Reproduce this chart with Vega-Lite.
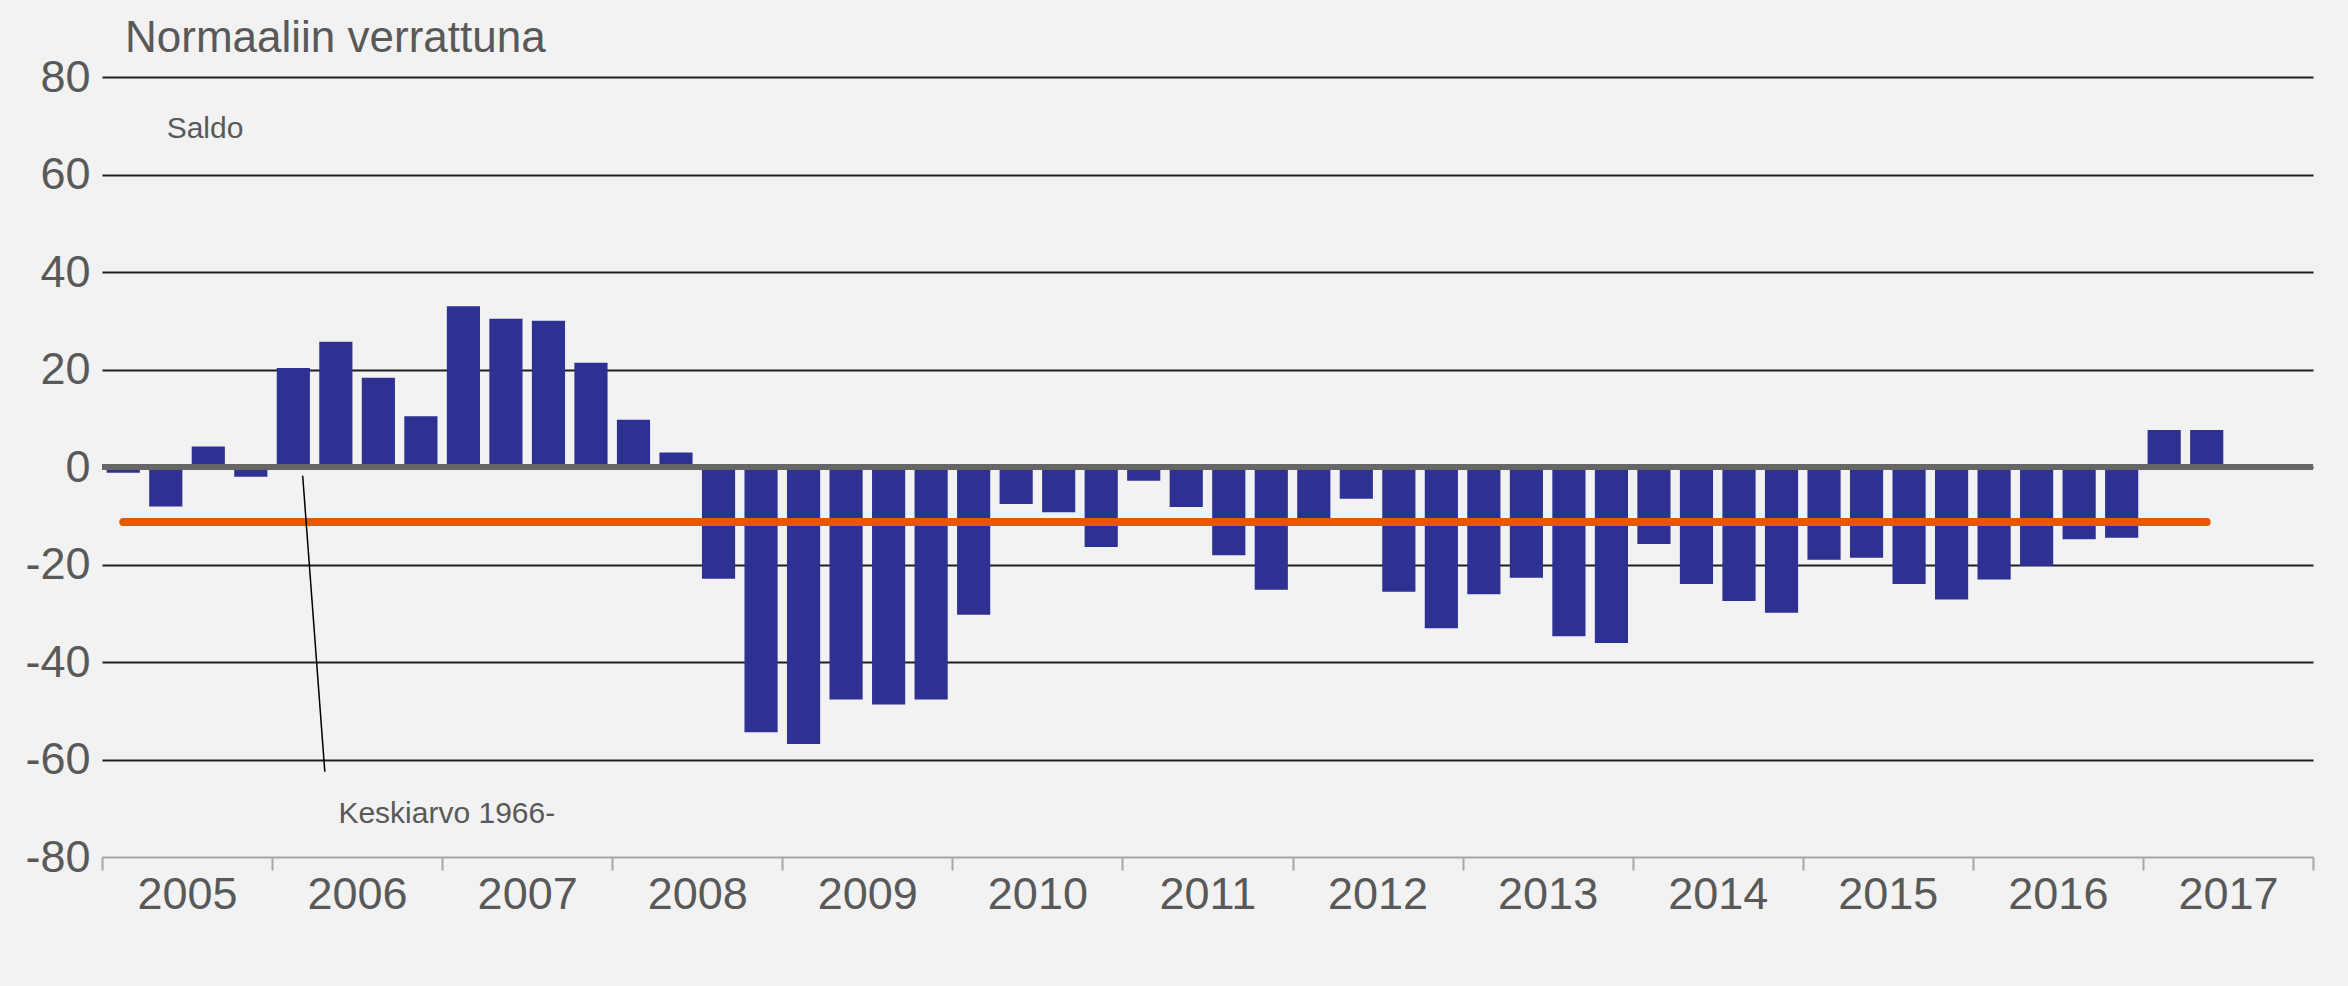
{
  "$schema": "https://vega.github.io/schema/vega-lite/v6.json",
  "width": 2211,
  "height": 780,
  "autosize": {"type": "none"},
  "padding": {"left": 102, "top": 77, "right": 35, "bottom": 129},
  "background": "#f2f2f2",
  "title": {
    "text": "Normaaliin verrattuna",
    "anchor": "start",
    "frame": "group",
    "dx": 23,
    "dy": 45,
    "offset": 4,
    "baseline": "alphabetic",
    "fontSize": 44,
    "font": "Liberation Sans",
    "fontWeight": "normal",
    "color": "#595959"
  },
  "datasets": {
    "saldo": [
      {"q": "2005Q1", "value": -1.2, "avg": -11.3},
      {"q": "2005Q2", "value": -8.1, "avg": -11.3},
      {"q": "2005Q3", "value": 4.2, "avg": -11.3},
      {"q": "2005Q4", "value": -2.0, "avg": -11.3},
      {"q": "2006Q1", "value": 20.3, "avg": -11.3},
      {"q": "2006Q2", "value": 25.7, "avg": -11.3},
      {"q": "2006Q3", "value": 18.3, "avg": -11.3},
      {"q": "2006Q4", "value": 10.4, "avg": -11.3},
      {"q": "2007Q1", "value": 33.0, "avg": -11.3},
      {"q": "2007Q2", "value": 30.4, "avg": -11.3},
      {"q": "2007Q3", "value": 30.0, "avg": -11.3},
      {"q": "2007Q4", "value": 21.4, "avg": -11.3},
      {"q": "2008Q1", "value": 9.7, "avg": -11.3},
      {"q": "2008Q2", "value": 3.0, "avg": -11.3},
      {"q": "2008Q3", "value": -22.9, "avg": -11.3},
      {"q": "2008Q4", "value": -54.4, "avg": -11.3},
      {"q": "2009Q1", "value": -56.8, "avg": -11.3},
      {"q": "2009Q2", "value": -47.7, "avg": -11.3},
      {"q": "2009Q3", "value": -48.7, "avg": -11.3},
      {"q": "2009Q4", "value": -47.7, "avg": -11.3},
      {"q": "2010Q1", "value": -30.3, "avg": -11.3},
      {"q": "2010Q2", "value": -7.6, "avg": -11.3},
      {"q": "2010Q3", "value": -9.3, "avg": -11.3},
      {"q": "2010Q4", "value": -16.4, "avg": -11.3},
      {"q": "2011Q1", "value": -2.8, "avg": -11.3},
      {"q": "2011Q2", "value": -8.2, "avg": -11.3},
      {"q": "2011Q3", "value": -18.1, "avg": -11.3},
      {"q": "2011Q4", "value": -25.2, "avg": -11.3},
      {"q": "2012Q1", "value": -11.0, "avg": -11.3},
      {"q": "2012Q2", "value": -6.5, "avg": -11.3},
      {"q": "2012Q3", "value": -25.6, "avg": -11.3},
      {"q": "2012Q4", "value": -33.1, "avg": -11.3},
      {"q": "2013Q1", "value": -26.1, "avg": -11.3},
      {"q": "2013Q2", "value": -22.7, "avg": -11.3},
      {"q": "2013Q3", "value": -34.7, "avg": -11.3},
      {"q": "2013Q4", "value": -36.1, "avg": -11.3},
      {"q": "2014Q1", "value": -15.8, "avg": -11.3},
      {"q": "2014Q2", "value": -24.0, "avg": -11.3},
      {"q": "2014Q3", "value": -27.5, "avg": -11.3},
      {"q": "2014Q4", "value": -29.9, "avg": -11.3},
      {"q": "2015Q1", "value": -19.0, "avg": -11.3},
      {"q": "2015Q2", "value": -18.6, "avg": -11.3},
      {"q": "2015Q3", "value": -24.0, "avg": -11.3},
      {"q": "2015Q4", "value": -27.2, "avg": -11.3},
      {"q": "2016Q1", "value": -23.1, "avg": -11.3},
      {"q": "2016Q2", "value": -20.3, "avg": -11.3},
      {"q": "2016Q3", "value": -14.8, "avg": -11.3},
      {"q": "2016Q4", "value": -14.5, "avg": -11.3},
      {"q": "2017Q1", "value": 7.6, "avg": -11.3},
      {"q": "2017Q2", "value": 7.6, "avg": -11.3}
    ],
    "notes": [
      {"text": "Saldo", "x": 2005.38, "y": 67.5},
      {"text": "Keskiarvo 1966-", "x": 2006.39, "y": -73.1}
    ],
    "leader": [
      {"x": 2006.18, "y": -1.8, "x2": 2006.31, "y2": -62.5}
    ]
  },
  "layer": [
    {
      "data": {"name": "saldo"},
      "layer": [
        {
          "mark": {"type": "bar", "color": "#2e3192"},
          "encoding": {
            "x": {
              "field": "q",
              "type": "ordinal",
              "title": null,
              "scale": {
                "domain": ["2005Q1","2005Q2","2005Q3","2005Q4","2006Q1","2006Q2","2006Q3","2006Q4","2007Q1","2007Q2","2007Q3","2007Q4","2008Q1","2008Q2","2008Q3","2008Q4","2009Q1","2009Q2","2009Q3","2009Q4","2010Q1","2010Q2","2010Q3","2010Q4","2011Q1","2011Q2","2011Q3","2011Q4","2012Q1","2012Q2","2012Q3","2012Q4","2013Q1","2013Q2","2013Q3","2013Q4","2014Q1","2014Q2","2014Q3","2014Q4","2015Q1","2015Q2","2015Q3","2015Q4","2016Q1","2016Q2","2016Q3","2016Q4","2017Q1","2017Q2","2017Q3","2017Q4"],
                "paddingInner": 0.22,
                "paddingOuter": 0.11
              },
              "axis": null
            },
            "y": {
              "field": "value",
              "type": "quantitative",
              "stack": null,
              "title": null,
              "scale": {"domain": [-80, 80], "nice": false},
              "axis": {
                "values": [-80, -60, -40, -20, 0, 20, 40, 60, 80],
                "labelExpr": "'' + datum.value",
                "title": null,
                "domain": false,
                "ticks": false,
                "tickSize": 0,
                "labelPadding": 12,
                "labelFontSize": 45,
                "labelFont": "Liberation Sans",
                "labelColor": "#595959",
                "grid": true,
                "gridColor": {"condition": {"test": "datum.value === -80", "value": "rgba(0,0,0,0)"}, "value": "#1e1e1e"},
                "gridWidth": 2
              }
            }
          }
        },
        {
          "mark": {"type": "line", "color": "#df5a00", "strokeWidth": 8, "strokeCap": "round"},
          "encoding": {
            "x": {"field": "q", "type": "ordinal", "title": null, "axis": null},
            "y": {"field": "avg", "type": "quantitative", "title": null}
          }
        },
        {
          "mark": {"type": "rule", "color": "#666666", "strokeWidth": 5},
          "encoding": {"y": {"datum": 0, "type": "quantitative", "title": null}}
        }
      ]
    },
    {
      "layer": [
        {
          "data": {"name": "notes"},
          "mark": {"type": "text", "align": "left", "baseline": "alphabetic", "fontSize": 30, "font": "Liberation Sans", "color": "#595959"},
          "encoding": {
            "x": {
              "field": "x",
              "type": "quantitative",
              "title": null,
              "scale": {"domain": [2005, 2018], "nice": false, "zero": false},
              "axis": {
                "values": [2005, 2006, 2007, 2008, 2009, 2010, 2011, 2012, 2013, 2014, 2015, 2016, 2017, 2018],
                "format": "d",
                "labelExpr": "datum.value >= 2018 ? '' : datum.label",
                "title": null,
                "grid": false,
                "orient": "bottom",
                "domainColor": "#a6a6a6",
                "domainWidth": 2,
                "tickColor": "#a6a6a6",
                "tickWidth": 2,
                "tickSize": 13,
                "labelOffset": 85,
                "labelPadding": 2,
                "labelFlush": false,
                "labelOverlap": false,
                "labelBound": false,
                "labelAlign": "center",
                "labelBaseline": "top",
                "labelFontSize": 45,
                "labelFont": "Liberation Sans",
                "labelColor": "#595959"
              }
            },
            "y": {"field": "y", "type": "quantitative", "title": null},
            "text": {"field": "text"}
          }
        },
        {
          "data": {"name": "leader"},
          "mark": {"type": "rule", "color": "#000000", "strokeWidth": 1.5},
          "encoding": {
            "x": {"field": "x", "type": "quantitative", "title": null},
            "x2": {"field": "x2"},
            "y": {"field": "y", "type": "quantitative", "title": null},
            "y2": {"field": "y2"}
          }
        }
      ]
    }
  ],
  "resolve": {"scale": {"x": "independent"}},
  "config": {
    "view": {"stroke": null},
    "font": "Liberation Sans"
  }
}
